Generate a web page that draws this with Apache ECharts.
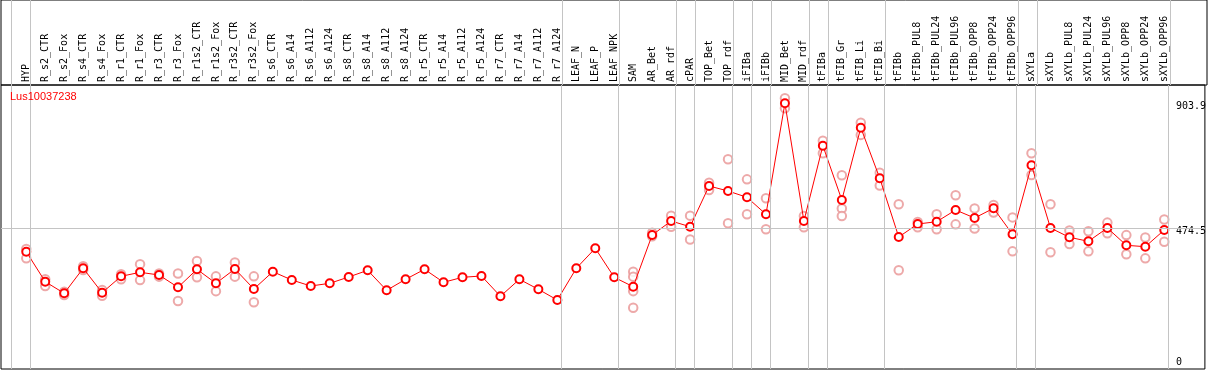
<!DOCTYPE html>
<html><head><meta charset="utf-8">
<script src="https://cdn.jsdelivr.net/npm/echarts@6/dist/echarts.min.js"></script>
<style>html,body{margin:0;padding:0;background:#fff}#c{width:1209px;height:370px}</style>
</head><body><div id="c"></div>
<script>
const geneId = 'Lus10037238';
const categories = ['HYP','R_s2_CTR','R_s2_Fox','R_s4_CTR','R_s4_Fox','R_r1_CTR','R_r1_Fox','R_r3_CTR','R_r3_Fox','R_r1s2_CTR','R_r1s2_Fox','R_r3s2_CTR','R_r3s2_Fox','R_s6_CTR','R_s6_A14','R_s6_A112','R_s6_A124','R_s8_CTR','R_s8_A14','R_s8_A112','R_s8_A124','R_r5_CTR','R_r5_A14','R_r5_A112','R_r5_A124','R_r7_CTR','R_r7_A14','R_r7_A112','R_r7_A124','LEAF_N','LEAF_P','LEAF_NPK','SAM','AR_Bet','AR_rdf','cPAR','TOP_Bet','TOP_rdf','iFIBa','iFIBb','MID_Bet','MID_rdf','tFIBa','tFIB_Gr','tFIB_Li','tFIB_Bi','tFIBb','tFIBb_PUL8','tFIBb_PUL24','tFIBb_PUL96','tFIBb_OPP8','tFIBb_OPP24','tFIBb_OPP96','sXYLa','sXYLb','sXYLb_PUL8','sXYLb_PUL24','sXYLb_PUL96','sXYLb_OPP8','sXYLb_OPP24','sXYLb_OPP96'];
const mainValues = [392.8,289.6,249.6,335.7,251.7,308.1,321.9,312.6,270.3,332.2,284.0,333.3,264.4,324.0,295.4,274.8,284.0,305.7,328.8,259.9,297.8,332.2,287.5,304.7,309.2,239.3,297.8,263.4,226.5,335.7,404.6,304.7,272.3,450.3,498.5,478.9,619.1,601.8,580.1,521.6,903.9,498.5,757.8,570.9,819.8,645.6,443.5,488.2,496.1,536.4,508.9,542.3,452.8,690.3,474.5,442.4,428.7,474.5,414.9,410.1,467.6];
const rep1 = [402,298,255,343,261,315,350,318,318,361,308,356,308,null,null,null,null,null,null,null,null,null,null,null,null,null,null,null,null,null,null,null,324,458,517,517,630,711,642,577,921,516,775,656,837,665,556,495,522,587,542,554,511,732,556,466,463,493,450,442,504];
const rep2 = [370,275,244,330,241,298,295,307,223,305,257,307,219,null,null,null,null,null,null,null,null,null,null,null,null,null,null,null,null,null,null,null,307,446,479,435,605,491,522,470,887,477,732,542,795,621,329,477,470,487,473,528,394,657,391,419,394,456,384,370,427];
const rep3 = [null,null,null,null,null,null,null,null,null,null,null,null,null,null,null,null,null,null,null,null,null,null,null,null,null,null,null,null,null,null,null,null,257,null,null,null,null,null,null,null,null,null,null,516,null,null,null,null,null,null,null,null,null,null,null,null,null,null,null,null,null];
const rep4 = [null,null,null,null,null,null,null,null,null,null,null,null,null,null,null,null,null,null,null,null,null,null,null,null,null,null,null,null,null,null,null,null,200,null,null,null,null,null,null,null,null,null,null,null,null,null,null,null,null,null,null,null,null,null,null,null,null,null,null,null,null];
const yTicks = [0, 474.5, 903.9];
const groupEnds = [-1,0,28,31,34,35,37,38,39,41,42,45,52,53,60];

const X_MIN = -1.332, X_MAX = 62.142, Y_MIN = -11.0, Y_MAX = 966.8, SEP_OFF = 0.22;
const GRAY = '#c4c4c4', RED = '#ff0000', PINK = '#e99494';
const mono = 'DejaVu Sans Mono';

const repData = [];
[rep1, rep2, rep3, rep4].forEach(arr => arr.forEach((v, i) => { if (v != null) repData.push([i, v]); }));
const sepLines = groupEnds.map(g => ({ xAxis: g + SEP_OFF }));
const lineStyleGray = { color: GRAY, type: 'solid', width: 1 };

const chart = echarts.init(document.getElementById('c'), null, { renderer: 'canvas' });
chart.setOption({
  animation: false,
  backgroundColor: '#fff',
  title: { text: geneId, left: 10, top: 91, padding: 0,
    textStyle: { color: RED, fontSize: 11, fontWeight: 'normal', fontFamily: 'Liberation Sans' } },
  grid: [
    { left: 1, right: 2, top: 85, bottom: 1, show: true, borderColor: '#000', borderWidth: 1, backgroundColor: 'transparent', containLabel: false },
    { left: 1, right: 2, top: 0, height: 85, show: true, borderColor: '#000', borderWidth: 1, backgroundColor: 'transparent', containLabel: false }
  ],
  xAxis: [
    { type: 'value', gridIndex: 0, position: 'top', min: X_MIN, max: X_MAX,
      axisLine: { show: false }, axisTick: { show: false }, splitLine: { show: false },
      axisLabel: { customValues: categories.map((_, i) => i), rotate: 90, margin: 3, color: '#000',
        fontFamily: mono, fontSize: 10, formatter: v => categories[Math.round(v)] } },
    { type: 'value', gridIndex: 1, min: X_MIN, max: X_MAX, show: false }
  ],
  yAxis: [
    { type: 'value', gridIndex: 0, position: 'right', min: Y_MIN, max: Y_MAX,
      axisLine: { show: false }, axisTick: { show: false }, splitLine: { show: false },
      axisLabel: { customValues: yTicks.filter(v => v > 0), inside: true, align: 'left', margin: 29,
        verticalAlign: 'top', lineHeight: 7, color: '#000', fontFamily: mono, fontSize: 10,
        formatter: v => String(v) } },
    { type: 'value', gridIndex: 0, position: 'right', min: Y_MIN, max: Y_MAX,
      axisLine: { show: false }, axisTick: { show: false }, splitLine: { show: false },
      axisLabel: { customValues: yTicks.filter(v => v === 0), inside: true, align: 'left', margin: 29,
        verticalAlign: 'bottom', lineHeight: 7, color: '#000', fontFamily: mono, fontSize: 10,
        formatter: v => String(v) } },
    { type: 'value', gridIndex: 1, min: 0, max: 1, show: false }
  ],
  series: [
    { type: 'line', xAxisIndex: 1, yAxisIndex: 2, data: [], silent: true, z: 1,
      markLine: { silent: true, symbol: ['none', 'none'], label: { show: false }, lineStyle: lineStyleGray, data: sepLines } },
    { type: 'line', xAxisIndex: 0, yAxisIndex: 0, data: [], silent: true, z: 1,
      markLine: { silent: true, symbol: ['none', 'none'], label: { show: false }, lineStyle: lineStyleGray,
        data: sepLines.concat([{ yAxis: yTicks[1] }]) } },
    { type: 'scatter', xAxisIndex: 0, yAxisIndex: 0, data: repData, z: 2,
      symbol: 'emptyCircle', symbolSize: 8.5,
      itemStyle: { color: PINK, borderColor: PINK, borderWidth: 1.3 } },
    { type: 'line', xAxisIndex: 0, yAxisIndex: 0, data: mainValues.map((v, i) => [i, v]), z: 3,
      symbol: 'emptyCircle', symbolSize: 8, showAllSymbol: true,
      lineStyle: { color: RED, width: 1 },
      itemStyle: { color: RED, borderColor: RED, borderWidth: 1.6 } }
  ]
});
</script>
</body></html>
